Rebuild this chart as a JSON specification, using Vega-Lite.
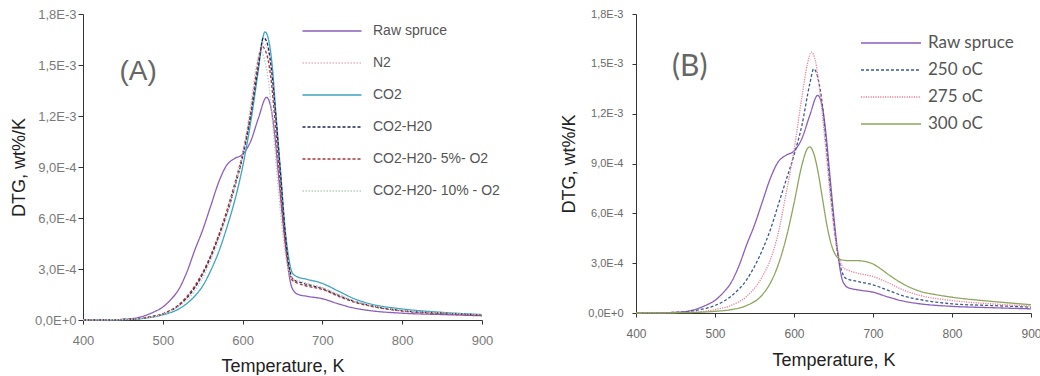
{
  "$schema": "https://vega.github.io/schema/vega-lite/v6.json",
  "background": "white",
  "padding": {"left": 10, "top": 8, "right": 0, "bottom": 0},
  "spacing": 154,
  "bounds": "flush",
  "config": {"view": {"stroke": null}},
  "datasets": {
    "A": [
      {"s":"Raw spruce","T":400,"DTG":0},{"s":"Raw spruce","T":430,"DTG":0.01e-4},{"s":"Raw spruce","T":450,"DTG":0.04e-4},{"s":"Raw spruce","T":470,"DTG":0.15e-4},{"s":"Raw spruce","T":480,"DTG":0.3e-4},{"s":"Raw spruce","T":490,"DTG":0.5e-4},{"s":"Raw spruce","T":500,"DTG":0.76e-4},{"s":"Raw spruce","T":510,"DTG":1.2e-4},{"s":"Raw spruce","T":520,"DTG":1.8e-4},{"s":"Raw spruce","T":530,"DTG":2.8e-4},{"s":"Raw spruce","T":540,"DTG":4.1e-4},{"s":"Raw spruce","T":550,"DTG":5.3e-4},{"s":"Raw spruce","T":560,"DTG":6.7e-4},{"s":"Raw spruce","T":570,"DTG":8.1e-4},{"s":"Raw spruce","T":580,"DTG":9.1e-4},{"s":"Raw spruce","T":590,"DTG":9.5e-4},{"s":"Raw spruce","T":600,"DTG":9.75e-4},{"s":"Raw spruce","T":610,"DTG":10.5e-4},{"s":"Raw spruce","T":620,"DTG":11.9e-4},{"s":"Raw spruce","T":630,"DTG":13.1e-4},{"s":"Raw spruce","T":635,"DTG":12.6e-4},{"s":"Raw spruce","T":640,"DTG":11.0e-4},{"s":"Raw spruce","T":645,"DTG":8.5e-4},{"s":"Raw spruce","T":650,"DTG":6.0e-4},{"s":"Raw spruce","T":655,"DTG":3.8e-4},{"s":"Raw spruce","T":660,"DTG":2.2e-4},{"s":"Raw spruce","T":665,"DTG":1.65e-4},{"s":"Raw spruce","T":670,"DTG":1.5e-4},{"s":"Raw spruce","T":680,"DTG":1.4e-4},{"s":"Raw spruce","T":700,"DTG":1.25e-4},{"s":"Raw spruce","T":720,"DTG":0.95e-4},{"s":"Raw spruce","T":740,"DTG":0.7e-4},{"s":"Raw spruce","T":760,"DTG":0.55e-4},{"s":"Raw spruce","T":800,"DTG":0.4e-4},{"s":"Raw spruce","T":850,"DTG":0.32e-4},{"s":"Raw spruce","T":900,"DTG":0.25e-4},

      {"s":"N2","T":400,"DTG":0},{"s":"N2","T":450,"DTG":0.03e-4},{"s":"N2","T":480,"DTG":0.15e-4},{"s":"N2","T":500,"DTG":0.35e-4},{"s":"N2","T":520,"DTG":0.85e-4},{"s":"N2","T":540,"DTG":1.9e-4},{"s":"N2","T":550,"DTG":2.7e-4},{"s":"N2","T":560,"DTG":3.7e-4},{"s":"N2","T":570,"DTG":4.9e-4},{"s":"N2","T":580,"DTG":6.2e-4},{"s":"N2","T":590,"DTG":7.8e-4},{"s":"N2","T":600,"DTG":9.6e-4},{"s":"N2","T":610,"DTG":12.0e-4},{"s":"N2","T":620,"DTG":15.0e-4},{"s":"N2","T":625,"DTG":16.3e-4},{"s":"N2","T":630,"DTG":16.1e-4},{"s":"N2","T":636,"DTG":14.5e-4},{"s":"N2","T":642,"DTG":11.5e-4},{"s":"N2","T":648,"DTG":8.0e-4},{"s":"N2","T":653,"DTG":5.2e-4},{"s":"N2","T":658,"DTG":3.2e-4},{"s":"N2","T":663,"DTG":2.45e-4},{"s":"N2","T":670,"DTG":2.3e-4},{"s":"N2","T":680,"DTG":2.15e-4},{"s":"N2","T":700,"DTG":1.9e-4},{"s":"N2","T":720,"DTG":1.5e-4},{"s":"N2","T":740,"DTG":1.1e-4},{"s":"N2","T":760,"DTG":0.85e-4},{"s":"N2","T":800,"DTG":0.55e-4},{"s":"N2","T":850,"DTG":0.4e-4},{"s":"N2","T":900,"DTG":0.3e-4},

      {"s":"CO2","T":400,"DTG":0},{"s":"CO2","T":450,"DTG":0.02e-4},{"s":"CO2","T":480,"DTG":0.12e-4},{"s":"CO2","T":500,"DTG":0.3e-4},{"s":"CO2","T":520,"DTG":0.65e-4},{"s":"CO2","T":540,"DTG":1.4e-4},{"s":"CO2","T":550,"DTG":2.0e-4},{"s":"CO2","T":560,"DTG":2.9e-4},{"s":"CO2","T":570,"DTG":4.0e-4},{"s":"CO2","T":580,"DTG":5.4e-4},{"s":"CO2","T":590,"DTG":7.0e-4},{"s":"CO2","T":600,"DTG":9.0e-4},{"s":"CO2","T":610,"DTG":11.6e-4},{"s":"CO2","T":620,"DTG":14.8e-4},{"s":"CO2","T":625,"DTG":16.5e-4},{"s":"CO2","T":628,"DTG":16.95e-4},{"s":"CO2","T":632,"DTG":16.6e-4},{"s":"CO2","T":637,"DTG":15.0e-4},{"s":"CO2","T":642,"DTG":12.0e-4},{"s":"CO2","T":648,"DTG":8.5e-4},{"s":"CO2","T":653,"DTG":5.5e-4},{"s":"CO2","T":658,"DTG":3.6e-4},{"s":"CO2","T":662,"DTG":2.8e-4},{"s":"CO2","T":668,"DTG":2.55e-4},{"s":"CO2","T":680,"DTG":2.4e-4},{"s":"CO2","T":700,"DTG":2.15e-4},{"s":"CO2","T":720,"DTG":1.7e-4},{"s":"CO2","T":740,"DTG":1.25e-4},{"s":"CO2","T":760,"DTG":0.95e-4},{"s":"CO2","T":800,"DTG":0.65e-4},{"s":"CO2","T":850,"DTG":0.45e-4},{"s":"CO2","T":900,"DTG":0.32e-4},

      {"s":"CO2-H20","T":400,"DTG":0},{"s":"CO2-H20","T":450,"DTG":0.03e-4},{"s":"CO2-H20","T":480,"DTG":0.15e-4},{"s":"CO2-H20","T":500,"DTG":0.35e-4},{"s":"CO2-H20","T":520,"DTG":0.85e-4},{"s":"CO2-H20","T":540,"DTG":1.9e-4},{"s":"CO2-H20","T":550,"DTG":2.7e-4},{"s":"CO2-H20","T":560,"DTG":3.7e-4},{"s":"CO2-H20","T":570,"DTG":4.9e-4},{"s":"CO2-H20","T":580,"DTG":6.2e-4},{"s":"CO2-H20","T":590,"DTG":7.8e-4},{"s":"CO2-H20","T":600,"DTG":9.6e-4},{"s":"CO2-H20","T":610,"DTG":12.0e-4},{"s":"CO2-H20","T":620,"DTG":15.0e-4},{"s":"CO2-H20","T":626,"DTG":16.6e-4},{"s":"CO2-H20","T":630,"DTG":16.4e-4},{"s":"CO2-H20","T":636,"DTG":14.8e-4},{"s":"CO2-H20","T":642,"DTG":11.8e-4},{"s":"CO2-H20","T":648,"DTG":8.3e-4},{"s":"CO2-H20","T":653,"DTG":5.3e-4},{"s":"CO2-H20","T":658,"DTG":3.2e-4},{"s":"CO2-H20","T":663,"DTG":2.4e-4},{"s":"CO2-H20","T":670,"DTG":2.25e-4},{"s":"CO2-H20","T":680,"DTG":2.1e-4},{"s":"CO2-H20","T":700,"DTG":1.85e-4},{"s":"CO2-H20","T":720,"DTG":1.45e-4},{"s":"CO2-H20","T":740,"DTG":1.1e-4},{"s":"CO2-H20","T":760,"DTG":0.85e-4},{"s":"CO2-H20","T":800,"DTG":0.55e-4},{"s":"CO2-H20","T":850,"DTG":0.4e-4},{"s":"CO2-H20","T":900,"DTG":0.3e-4},

      {"s":"CO2-H20-  5%- O2","T":400,"DTG":0},{"s":"CO2-H20-  5%- O2","T":450,"DTG":0.03e-4},{"s":"CO2-H20-  5%- O2","T":480,"DTG":0.16e-4},{"s":"CO2-H20-  5%- O2","T":500,"DTG":0.37e-4},{"s":"CO2-H20-  5%- O2","T":520,"DTG":0.9e-4},{"s":"CO2-H20-  5%- O2","T":540,"DTG":2.0e-4},{"s":"CO2-H20-  5%- O2","T":550,"DTG":2.8e-4},{"s":"CO2-H20-  5%- O2","T":560,"DTG":3.8e-4},{"s":"CO2-H20-  5%- O2","T":570,"DTG":5.0e-4},{"s":"CO2-H20-  5%- O2","T":580,"DTG":6.4e-4},{"s":"CO2-H20-  5%- O2","T":590,"DTG":8.0e-4},{"s":"CO2-H20-  5%- O2","T":600,"DTG":9.8e-4},{"s":"CO2-H20-  5%- O2","T":610,"DTG":12.2e-4},{"s":"CO2-H20-  5%- O2","T":618,"DTG":14.8e-4},{"s":"CO2-H20-  5%- O2","T":624,"DTG":16.1e-4},{"s":"CO2-H20-  5%- O2","T":629,"DTG":15.8e-4},{"s":"CO2-H20-  5%- O2","T":635,"DTG":14.4e-4},{"s":"CO2-H20-  5%- O2","T":641,"DTG":11.5e-4},{"s":"CO2-H20-  5%- O2","T":647,"DTG":8.1e-4},{"s":"CO2-H20-  5%- O2","T":652,"DTG":5.3e-4},{"s":"CO2-H20-  5%- O2","T":657,"DTG":3.2e-4},{"s":"CO2-H20-  5%- O2","T":662,"DTG":2.35e-4},{"s":"CO2-H20-  5%- O2","T":670,"DTG":2.15e-4},{"s":"CO2-H20-  5%- O2","T":680,"DTG":2.0e-4},{"s":"CO2-H20-  5%- O2","T":700,"DTG":1.8e-4},{"s":"CO2-H20-  5%- O2","T":720,"DTG":1.4e-4},{"s":"CO2-H20-  5%- O2","T":740,"DTG":1.05e-4},{"s":"CO2-H20-  5%- O2","T":760,"DTG":0.82e-4},{"s":"CO2-H20-  5%- O2","T":800,"DTG":0.53e-4},{"s":"CO2-H20-  5%- O2","T":850,"DTG":0.38e-4},{"s":"CO2-H20-  5%- O2","T":900,"DTG":0.28e-4},

      {"s":"CO2-H20-  10% - O2","T":400,"DTG":0},{"s":"CO2-H20-  10% - O2","T":450,"DTG":0.03e-4},{"s":"CO2-H20-  10% - O2","T":480,"DTG":0.14e-4},{"s":"CO2-H20-  10% - O2","T":500,"DTG":0.33e-4},{"s":"CO2-H20-  10% - O2","T":520,"DTG":0.8e-4},{"s":"CO2-H20-  10% - O2","T":540,"DTG":1.7e-4},{"s":"CO2-H20-  10% - O2","T":550,"DTG":2.5e-4},{"s":"CO2-H20-  10% - O2","T":560,"DTG":3.5e-4},{"s":"CO2-H20-  10% - O2","T":570,"DTG":4.7e-4},{"s":"CO2-H20-  10% - O2","T":580,"DTG":6.1e-4},{"s":"CO2-H20-  10% - O2","T":590,"DTG":7.8e-4},{"s":"CO2-H20-  10% - O2","T":600,"DTG":9.8e-4},{"s":"CO2-H20-  10% - O2","T":610,"DTG":12.6e-4},{"s":"CO2-H20-  10% - O2","T":617,"DTG":14.9e-4},{"s":"CO2-H20-  10% - O2","T":622,"DTG":15.8e-4},{"s":"CO2-H20-  10% - O2","T":627,"DTG":15.4e-4},{"s":"CO2-H20-  10% - O2","T":633,"DTG":13.8e-4},{"s":"CO2-H20-  10% - O2","T":639,"DTG":10.8e-4},{"s":"CO2-H20-  10% - O2","T":645,"DTG":7.5e-4},{"s":"CO2-H20-  10% - O2","T":651,"DTG":4.8e-4},{"s":"CO2-H20-  10% - O2","T":657,"DTG":3.0e-4},{"s":"CO2-H20-  10% - O2","T":663,"DTG":2.4e-4},{"s":"CO2-H20-  10% - O2","T":670,"DTG":2.3e-4},{"s":"CO2-H20-  10% - O2","T":680,"DTG":2.15e-4},{"s":"CO2-H20-  10% - O2","T":700,"DTG":1.9e-4},{"s":"CO2-H20-  10% - O2","T":720,"DTG":1.5e-4},{"s":"CO2-H20-  10% - O2","T":740,"DTG":1.12e-4},{"s":"CO2-H20-  10% - O2","T":760,"DTG":0.87e-4},{"s":"CO2-H20-  10% - O2","T":800,"DTG":0.57e-4},{"s":"CO2-H20-  10% - O2","T":850,"DTG":0.42e-4},{"s":"CO2-H20-  10% - O2","T":900,"DTG":0.32e-4}
    ],
    "B": [
      {"s":"Raw spruce","T":400,"DTG":0},{"s":"Raw spruce","T":430,"DTG":0.01e-4},{"s":"Raw spruce","T":450,"DTG":0.04e-4},{"s":"Raw spruce","T":470,"DTG":0.15e-4},{"s":"Raw spruce","T":480,"DTG":0.3e-4},{"s":"Raw spruce","T":490,"DTG":0.5e-4},{"s":"Raw spruce","T":500,"DTG":0.76e-4},{"s":"Raw spruce","T":510,"DTG":1.2e-4},{"s":"Raw spruce","T":520,"DTG":1.8e-4},{"s":"Raw spruce","T":530,"DTG":2.8e-4},{"s":"Raw spruce","T":540,"DTG":4.1e-4},{"s":"Raw spruce","T":550,"DTG":5.3e-4},{"s":"Raw spruce","T":560,"DTG":6.7e-4},{"s":"Raw spruce","T":570,"DTG":8.1e-4},{"s":"Raw spruce","T":580,"DTG":9.1e-4},{"s":"Raw spruce","T":590,"DTG":9.5e-4},{"s":"Raw spruce","T":600,"DTG":9.75e-4},{"s":"Raw spruce","T":610,"DTG":10.5e-4},{"s":"Raw spruce","T":620,"DTG":11.9e-4},{"s":"Raw spruce","T":630,"DTG":13.1e-4},{"s":"Raw spruce","T":635,"DTG":12.6e-4},{"s":"Raw spruce","T":640,"DTG":11.0e-4},{"s":"Raw spruce","T":645,"DTG":8.5e-4},{"s":"Raw spruce","T":650,"DTG":6.0e-4},{"s":"Raw spruce","T":655,"DTG":3.8e-4},{"s":"Raw spruce","T":660,"DTG":2.2e-4},{"s":"Raw spruce","T":665,"DTG":1.65e-4},{"s":"Raw spruce","T":670,"DTG":1.5e-4},{"s":"Raw spruce","T":680,"DTG":1.4e-4},{"s":"Raw spruce","T":700,"DTG":1.25e-4},{"s":"Raw spruce","T":720,"DTG":0.95e-4},{"s":"Raw spruce","T":740,"DTG":0.7e-4},{"s":"Raw spruce","T":760,"DTG":0.55e-4},{"s":"Raw spruce","T":800,"DTG":0.4e-4},{"s":"Raw spruce","T":850,"DTG":0.32e-4},{"s":"Raw spruce","T":900,"DTG":0.25e-4},

      {"s":"250 oC","T":400,"DTG":0},{"s":"250 oC","T":450,"DTG":0.04e-4},{"s":"250 oC","T":470,"DTG":0.12e-4},{"s":"250 oC","T":490,"DTG":0.3e-4},{"s":"250 oC","T":500,"DTG":0.45e-4},{"s":"250 oC","T":520,"DTG":1.0e-4},{"s":"250 oC","T":540,"DTG":2.0e-4},{"s":"250 oC","T":560,"DTG":3.8e-4},{"s":"250 oC","T":570,"DTG":5.0e-4},{"s":"250 oC","T":580,"DTG":6.5e-4},{"s":"250 oC","T":590,"DTG":8.0e-4},{"s":"250 oC","T":600,"DTG":9.5e-4},{"s":"250 oC","T":610,"DTG":11.3e-4},{"s":"250 oC","T":620,"DTG":13.8e-4},{"s":"250 oC","T":625,"DTG":14.7e-4},{"s":"250 oC","T":630,"DTG":14.2e-4},{"s":"250 oC","T":636,"DTG":12.5e-4},{"s":"250 oC","T":642,"DTG":9.5e-4},{"s":"250 oC","T":648,"DTG":6.5e-4},{"s":"250 oC","T":654,"DTG":4.0e-4},{"s":"250 oC","T":660,"DTG":2.6e-4},{"s":"250 oC","T":665,"DTG":2.1e-4},{"s":"250 oC","T":680,"DTG":1.9e-4},{"s":"250 oC","T":700,"DTG":1.7e-4},{"s":"250 oC","T":720,"DTG":1.35e-4},{"s":"250 oC","T":740,"DTG":1.0e-4},{"s":"250 oC","T":760,"DTG":0.8e-4},{"s":"250 oC","T":800,"DTG":0.55e-4},{"s":"250 oC","T":850,"DTG":0.45e-4},{"s":"250 oC","T":900,"DTG":0.35e-4},

      {"s":"275 oC","T":400,"DTG":0},{"s":"275 oC","T":470,"DTG":0.05e-4},{"s":"275 oC","T":500,"DTG":0.2e-4},{"s":"275 oC","T":520,"DTG":0.45e-4},{"s":"275 oC","T":540,"DTG":1.0e-4},{"s":"275 oC","T":560,"DTG":2.2e-4},{"s":"275 oC","T":570,"DTG":3.2e-4},{"s":"275 oC","T":580,"DTG":4.8e-4},{"s":"275 oC","T":590,"DTG":7.2e-4},{"s":"275 oC","T":600,"DTG":9.8e-4},{"s":"275 oC","T":610,"DTG":13.0e-4},{"s":"275 oC","T":617,"DTG":15.0e-4},{"s":"275 oC","T":622,"DTG":15.7e-4},{"s":"275 oC","T":627,"DTG":15.2e-4},{"s":"275 oC","T":633,"DTG":13.2e-4},{"s":"275 oC","T":640,"DTG":10.0e-4},{"s":"275 oC","T":646,"DTG":7.0e-4},{"s":"275 oC","T":652,"DTG":4.6e-4},{"s":"275 oC","T":658,"DTG":3.2e-4},{"s":"275 oC","T":663,"DTG":2.7e-4},{"s":"275 oC","T":670,"DTG":2.55e-4},{"s":"275 oC","T":680,"DTG":2.4e-4},{"s":"275 oC","T":700,"DTG":2.2e-4},{"s":"275 oC","T":720,"DTG":1.8e-4},{"s":"275 oC","T":740,"DTG":1.35e-4},{"s":"275 oC","T":760,"DTG":1.05e-4},{"s":"275 oC","T":800,"DTG":0.75e-4},{"s":"275 oC","T":850,"DTG":0.55e-4},{"s":"275 oC","T":900,"DTG":0.42e-4},

      {"s":"300 oC","T":400,"DTG":0},{"s":"300 oC","T":470,"DTG":0.03e-4},{"s":"300 oC","T":500,"DTG":0.1e-4},{"s":"300 oC","T":520,"DTG":0.2e-4},{"s":"300 oC","T":540,"DTG":0.45e-4},{"s":"300 oC","T":560,"DTG":1.1e-4},{"s":"300 oC","T":570,"DTG":1.8e-4},{"s":"300 oC","T":580,"DTG":2.9e-4},{"s":"300 oC","T":590,"DTG":4.5e-4},{"s":"300 oC","T":600,"DTG":6.6e-4},{"s":"300 oC","T":610,"DTG":8.9e-4},{"s":"300 oC","T":617,"DTG":9.9e-4},{"s":"300 oC","T":620,"DTG":10.0e-4},{"s":"300 oC","T":625,"DTG":9.6e-4},{"s":"300 oC","T":630,"DTG":8.6e-4},{"s":"300 oC","T":636,"DTG":6.9e-4},{"s":"300 oC","T":642,"DTG":5.2e-4},{"s":"300 oC","T":648,"DTG":4.0e-4},{"s":"300 oC","T":654,"DTG":3.4e-4},{"s":"300 oC","T":660,"DTG":3.2e-4},{"s":"300 oC","T":670,"DTG":3.15e-4},{"s":"300 oC","T":680,"DTG":3.15e-4},{"s":"300 oC","T":690,"DTG":3.1e-4},{"s":"300 oC","T":700,"DTG":2.95e-4},{"s":"300 oC","T":710,"DTG":2.65e-4},{"s":"300 oC","T":720,"DTG":2.3e-4},{"s":"300 oC","T":740,"DTG":1.7e-4},{"s":"300 oC","T":760,"DTG":1.3e-4},{"s":"300 oC","T":780,"DTG":1.1e-4},{"s":"300 oC","T":800,"DTG":0.95e-4},{"s":"300 oC","T":850,"DTG":0.7e-4},{"s":"300 oC","T":900,"DTG":0.5e-4}
    ]
  },
  "hconcat": [
    {
      "width": 399,
      "height": 306,
      "layer": [
        {
          "data": {"name": "A"},
          "mark": {"type": "line", "interpolate": "monotone", "strokeWidth": 1.3},
          "encoding": {
            "x": {"field": "T", "type": "quantitative",
              "scale": {"domain": [400, 900], "nice": false},
              "axis": {"values": [400,500,600,700,800,900], "title": "Temperature,  K", "grid": false, "labelFlush": false,
                "labelFont": "Liberation Sans", "labelFontSize": 13, "labelColor": "#7a7a7a", "labelPadding": 10,
                "titleFont": "Liberation Sans", "titleFontSize": 18, "titleFontWeight": "normal", "titleColor": "#222", "titlePadding": 10,
                "domainColor": "#333", "tickColor": "#333", "tickSize": 4}},
            "y": {"field": "DTG", "type": "quantitative",
              "scale": {"domain": [0, 0.0018], "nice": false},
              "axis": {"values": [0,0.0003,0.0006,0.0009,0.0012,0.0015,0.0018], "title": "DTG,  wt%/K", "grid": false,
                "labelExpr": "replace(upper(format(datum.value, '.1e')), '.', ',')",
                "labelFont": "Liberation Sans", "labelFontSize": 13, "labelColor": "#7a7a7a", "labelPadding": 2,
                "titleFont": "Liberation Sans", "titleFontSize": 18, "titleFontWeight": "normal", "titleColor": "#222", "titlePadding": 6,
                "domainColor": "#333", "tickColor": "#333", "tickSize": 5}},
            "color": {"field": "s", "type": "nominal",
              "scale": {"domain": ["Raw spruce","N2","CO2","CO2-H20","CO2-H20-  5%- O2","CO2-H20-  10% - O2"],
                "range": ["#8b5fbf","#f0b4c4","#3fa3c4","#1c2456","#a8323e","#b4d2bc"]},
              "legend": {"orient": "none", "legendX": 238, "legendY": 6, "title": null, "symbolType": "M-2.95,0H2.95", "symbolSize": 400,
                "symbolStrokeWidth": 1.5, "labelFont": "Liberation Sans", "labelFontSize": 14, "labelColor": "#555", "rowPadding": 14, "labelOffset": 30}},
            "strokeDash": {"field": "s", "type": "nominal",
              "scale": {"domain": ["Raw spruce","N2","CO2","CO2-H20","CO2-H20-  5%- O2","CO2-H20-  10% - O2"],
                "range": [[1,0],[1.5,1.5],[1,0],[3,2],[3,2],[1.5,1.5]]},
              "legend": {"orient": "none", "legendX": 238, "legendY": 6, "title": null, "symbolType": "M-2.95,0H2.95", "symbolSize": 400,
                "symbolStrokeWidth": 1.5, "labelFont": "Liberation Sans", "labelFontSize": 14, "labelColor": "#555", "rowPadding": 14, "labelOffset": 30}}
          }
        },
        {
          "data": {"values": [{}]},
          "mark": {"type": "text", "font": "Liberation Sans", "fontSize": 28, "color": "#666"},
          "encoding": {"x": {"datum": 469, "type": "quantitative"}, "y": {"datum": 0.00146, "type": "quantitative"}, "text": {"value": "(A)"}}
        }
      ]
    },
    {
      "width": 395,
      "height": 299,
      "layer": [
        {
          "data": {"name": "B"},
          "mark": {"type": "line", "interpolate": "monotone", "strokeWidth": 1.3},
          "encoding": {
            "x": {"field": "T", "type": "quantitative",
              "scale": {"domain": [400, 900], "nice": false},
              "axis": {"values": [400,500,600,700,800,900], "title": "Temperature,  K", "grid": false, "labelFlush": false,
                "labelFont": "Liberation Sans", "labelFontSize": 12, "labelColor": "#6a6a6a", "labelPadding": 11,
                "titleFont": "Liberation Sans", "titleFontSize": 18, "titleFontWeight": "normal", "titleColor": "#222", "titlePadding": 12,
                "domainColor": "#333", "tickColor": "#333", "tickSize": 4}},
            "y": {"field": "DTG", "type": "quantitative",
              "scale": {"domain": [0, 0.0018], "nice": false},
              "axis": {"values": [0,0.0003,0.0006,0.0009,0.0012,0.0015,0.0018], "title": "DTG,  wt%/K", "grid": false,
                "labelExpr": "replace(upper(format(datum.value, '.1e')), '.', ',')",
                "labelFont": "Liberation Sans", "labelFontSize": 11, "labelColor": "#6a6a6a", "labelPadding": 9,
                "titleFont": "Liberation Sans", "titleFontSize": 18, "titleFontWeight": "normal", "titleColor": "#222", "titlePadding": 9,
                "domainColor": "#333", "tickColor": "#333", "tickSize": 4}},
            "color": {"field": "s", "type": "nominal",
              "scale": {"domain": ["Raw spruce","250 oC","275 oC","300 oC"],
                "range": ["#8b5fbf","#3c5b8f","#e88098","#8fa65f"]},
              "legend": {"orient": "none", "legendX": 244, "legendY": 18, "title": null, "symbolType": "M-3,0H3", "symbolSize": 400,
                "symbolStrokeWidth": 1.5, "labelFont": "Lato", "labelFontSize": 17, "labelColor": "#555", "rowPadding": 8, "labelOffset": 26}},
            "strokeDash": {"field": "s", "type": "nominal",
              "scale": {"domain": ["Raw spruce","250 oC","275 oC","300 oC"],
                "range": [[1,0],[3,2],[1.2,1.2],[1,0]]},
              "legend": {"orient": "none", "legendX": 244, "legendY": 18, "title": null, "symbolType": "M-3,0H3", "symbolSize": 400,
                "symbolStrokeWidth": 1.5, "labelFont": "Lato", "labelFontSize": 17, "labelColor": "#555", "rowPadding": 8, "labelOffset": 26}}
          }
        },
        {
          "data": {"values": [{}]},
          "mark": {"type": "text", "font": "Lato", "fontSize": 30, "color": "#666"},
          "encoding": {"x": {"datum": 468, "type": "quantitative"}, "y": {"datum": 0.00148, "type": "quantitative"}, "text": {"value": "(B)"}}
        }
      ]
    }
  ],
  "resolve": {"scale": {"color": "independent", "strokeDash": "independent", "x": "independent", "y": "independent"}}
}
